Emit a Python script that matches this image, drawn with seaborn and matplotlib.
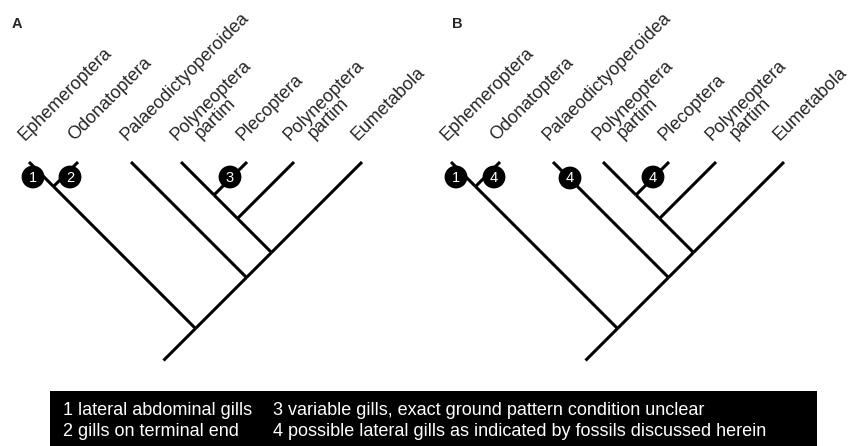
import numpy as np
import matplotlib
matplotlib.use("Agg")
import matplotlib.pyplot as plt
from matplotlib.collections import LineCollection
from matplotlib.patches import Rectangle
import seaborn as sns

# tip names and their x positions (pixel units, panel-local)
taxa = ["Ephemeroptera", "Odonatoptera", "Palaeodictyoperoidea",
        "Polyneoptera\npartim", "Plecoptera", "Polyneoptera\npartim", "Eumetabola"]
tip_x = [29, 78, 131, 181, 247, 294, 362]
tip_y = 162
# ((Ephem, Odon), (Palaeo, (((Poly, Plec), Poly), Eumet)))
topology = ((0, 1), (2, (((3, 4), 5), 6)))
stem_len = 32

panels = ["A", "B"]
panel_dx = [0, 422]
panel_label_x = [12, 452]

# character state circles per panel: x, y, label
marks_x = {"A": [33, 70, 230], "B": [34, 72, 148, 231]}
marks_y = {"A": [177, 177, 177], "B": [177, 177, 178, 177]}
marks_lab = {"A": ["1", "2", "3"], "B": ["1", "4", "4", "4"]}

legend_col1 = ["1 lateral abdominal gills", "2 gills on terminal end"]
legend_col2 = ["3 variable gills, exact ground pattern condition unclear",
               "4 possible lateral gills as indicated by fossils discussed herein"]

sns.set_style("white")
plt.rcParams["font.family"] = ["Liberation Sans", "DejaVu Sans"]


def span(node):
    if isinstance(node, int):
        return tip_x[node], tip_x[node]
    lo = [span(c)[0] for c in node]
    hi = [span(c)[1] for c in node]
    return min(lo), max(hi)


def pos(node):
    lo, hi = span(node)
    return (lo + hi) / 2, tip_y + (hi - lo) / 2


def segments(node, out):
    if isinstance(node, int):
        return
    px, py = pos(node)
    for c in node:
        cx, cy = pos(c)
        out.append([(px, py), (cx, cy)])
        segments(c, out)


fig = plt.figure(figsize=(8.54, 4.46), dpi=100)
ax = fig.add_axes([0, 0, 1, 1])
ax.set_xlim(0, 854)
ax.set_ylim(446, 0)
ax.axis("off")

# rotated text frame (screen y points down): along text, and one line "down"
r2 = np.sqrt(0.5)
along = np.array([r2, -r2])
down = np.array([r2, r2])

for p, dx, lx in zip(panels, panel_dx, panel_label_x):
    segs = []
    segments(topology, segs)
    rx, ry = pos(topology)
    segs.append([(rx, ry), (rx - stem_len, ry + stem_len)])
    segs = [[(x + dx, y) for x, y in s] for s in segs]
    ax.add_collection(LineCollection(segs, colors="black", linewidths=2.2,
                                     capstyle="butt"))

    for name, x in zip(taxa, tip_x):
        base = np.array([x + dx - 4, tip_y - 21])
        for k, line in enumerate(name.split("\n")):
            xy = base + k * (18 * along + 16 * down)
            ax.text(xy[0], xy[1], line, rotation=45, rotation_mode="anchor",
                    ha="left", va="baseline", fontsize=13)

    mx = [x + dx for x in marks_x[p]]
    sns.scatterplot(x=mx, y=marks_y[p], s=270, color="black",
                    edgecolor="none", ax=ax, legend=False, zorder=3)
    for x, y, t in zip(mx, marks_y[p], marks_lab[p]):
        ax.text(x, y + 0.5, t, color="white", fontsize=10.5,
                ha="center", va="center", zorder=4)

    ax.text(lx, 28, p, fontsize=10.5, fontweight="bold",
            ha="left", va="baseline")

ax.add_patch(Rectangle((50, 391), 767, 60, facecolor="black", edgecolor="none"))
for i, (a, b) in enumerate(zip(legend_col1, legend_col2)):
    y = 415 + 21 * i
    ax.text(63, y, a, color="white", fontsize=13, ha="left", va="baseline")
    ax.text(273, y, b, color="white", fontsize=13, ha="left", va="baseline")

fig.savefig("out.png", dpi=100)
